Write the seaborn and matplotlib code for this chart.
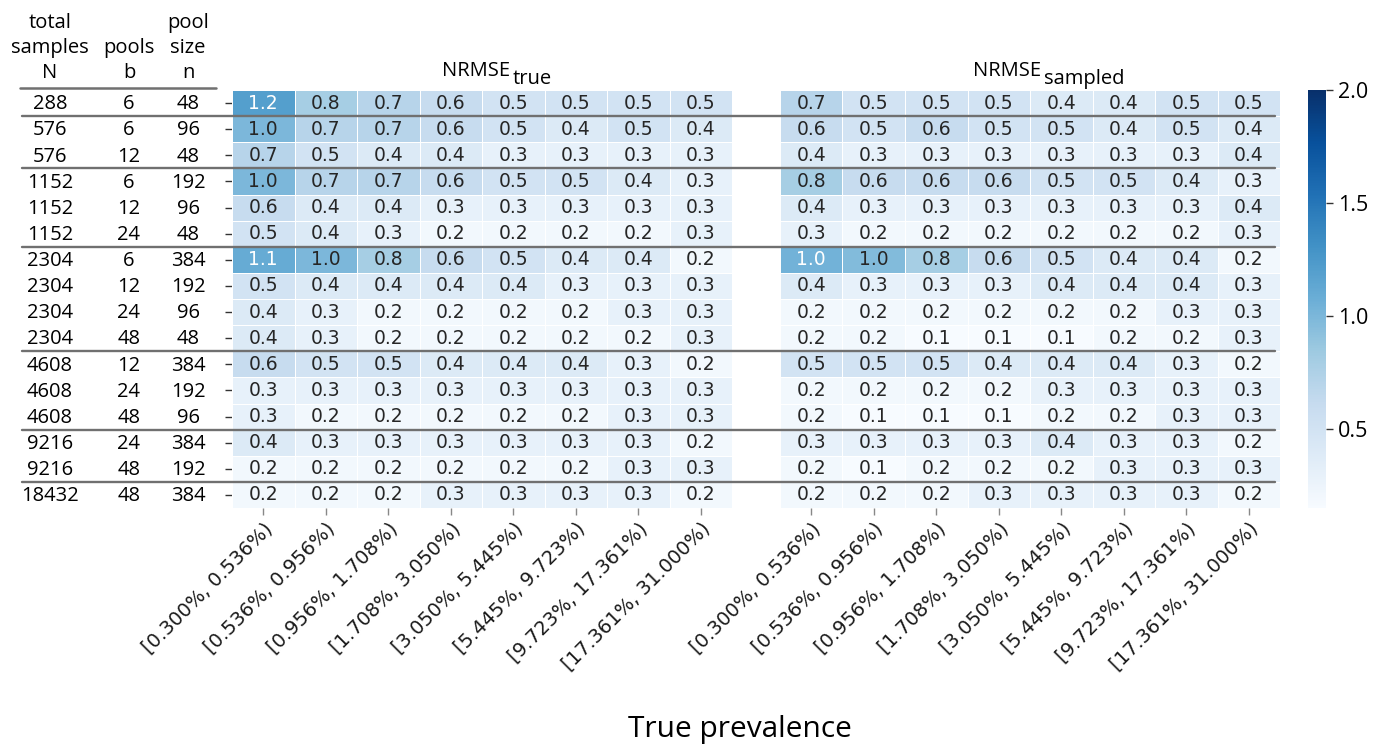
import numpy as np
import pandas as pd
import seaborn as sns
import matplotlib.pyplot as plt
from matplotlib.lines import Line2D
from matplotlib.transforms import blended_transform_factory

prevalence_bins = ["[0.300%, 0.536%)", "[0.536%, 0.956%)", "[0.956%, 1.708%)",
                   "[1.708%, 3.050%)", "[3.050%, 5.445%)", "[5.445%, 9.723%)",
                   "[9.723%, 17.361%)", "[17.361%, 31.000%)"]
total_samples = [288, 576, 576, 1152, 1152, 1152, 2304, 2304, 2304, 2304,
                 4608, 4608, 4608, 9216, 9216, 18432]
pools = [6, 6, 12, 6, 12, 24, 6, 12, 24, 48, 12, 24, 48, 24, 48, 48]
pool_size = [48, 96, 48, 192, 96, 48, 384, 192, 96, 48, 384, 192, 96, 384, 192, 384]

nrmse_true = [
    [1.2, 0.8, 0.7, 0.6, 0.5, 0.5, 0.5, 0.5],
    [1.0, 0.7, 0.7, 0.6, 0.5, 0.4, 0.5, 0.4],
    [0.7, 0.5, 0.4, 0.4, 0.3, 0.3, 0.3, 0.3],
    [1.0, 0.7, 0.7, 0.6, 0.5, 0.5, 0.4, 0.3],
    [0.6, 0.4, 0.4, 0.3, 0.3, 0.3, 0.3, 0.3],
    [0.5, 0.4, 0.3, 0.2, 0.2, 0.2, 0.2, 0.3],
    [1.1, 1.0, 0.8, 0.6, 0.5, 0.4, 0.4, 0.2],
    [0.5, 0.4, 0.4, 0.4, 0.4, 0.3, 0.3, 0.3],
    [0.4, 0.3, 0.2, 0.2, 0.2, 0.2, 0.3, 0.3],
    [0.4, 0.3, 0.2, 0.2, 0.2, 0.2, 0.2, 0.3],
    [0.6, 0.5, 0.5, 0.4, 0.4, 0.4, 0.3, 0.2],
    [0.3, 0.3, 0.3, 0.3, 0.3, 0.3, 0.3, 0.3],
    [0.3, 0.2, 0.2, 0.2, 0.2, 0.2, 0.3, 0.3],
    [0.4, 0.3, 0.3, 0.3, 0.3, 0.3, 0.3, 0.2],
    [0.2, 0.2, 0.2, 0.2, 0.2, 0.2, 0.3, 0.3],
    [0.2, 0.2, 0.2, 0.3, 0.3, 0.3, 0.3, 0.2],
]
nrmse_sampled = [
    [0.7, 0.5, 0.5, 0.5, 0.4, 0.4, 0.5, 0.5],
    [0.6, 0.5, 0.6, 0.5, 0.5, 0.4, 0.5, 0.4],
    [0.4, 0.3, 0.3, 0.3, 0.3, 0.3, 0.3, 0.4],
    [0.8, 0.6, 0.6, 0.6, 0.5, 0.5, 0.4, 0.3],
    [0.4, 0.3, 0.3, 0.3, 0.3, 0.3, 0.3, 0.4],
    [0.3, 0.2, 0.2, 0.2, 0.2, 0.2, 0.2, 0.3],
    [1.04, 0.97, 0.8, 0.6, 0.5, 0.4, 0.4, 0.2],
    [0.4, 0.3, 0.3, 0.3, 0.4, 0.4, 0.4, 0.3],
    [0.2, 0.2, 0.2, 0.2, 0.2, 0.2, 0.3, 0.3],
    [0.2, 0.2, 0.1, 0.1, 0.1, 0.2, 0.2, 0.3],
    [0.5, 0.5, 0.5, 0.4, 0.4, 0.4, 0.3, 0.2],
    [0.2, 0.2, 0.2, 0.2, 0.3, 0.3, 0.3, 0.3],
    [0.2, 0.1, 0.1, 0.1, 0.2, 0.2, 0.3, 0.3],
    [0.3, 0.3, 0.3, 0.3, 0.4, 0.3, 0.3, 0.2],
    [0.2, 0.1, 0.2, 0.2, 0.2, 0.3, 0.3, 0.3],
    [0.2, 0.2, 0.2, 0.3, 0.3, 0.3, 0.3, 0.2],
]
group_boundaries = [1, 3, 6, 10, 13, 15]

sns.set_style("white")
plt.rcParams['font.family'] = ['DejaVu Sans']
plt.rcParams['text.color'] = 'black'

W, H = 1377, 744
fig = plt.figure(figsize=(W / 100, H / 100), dpi=100)
fig.patch.set_facecolor('white')

top, bot = 90, 508
ax1 = fig.add_axes([232 / W, 1 - bot / H, 500 / W, (bot - top) / H])
ax2 = fig.add_axes([780 / W, 1 - bot / H, 500 / W, (bot - top) / H])
cax = fig.add_axes([1308 / W, 1 - bot / H, 18 / W, (bot - top) / H])

df1 = pd.DataFrame(nrmse_true, columns=prevalence_bins)
df2 = pd.DataFrame(nrmse_sampled, columns=prevalence_bins)

common = dict(cmap='Blues', vmin=0.15, vmax=2.0, annot=True, fmt='.1f',
              linewidths=0.5, linecolor='white', annot_kws={'size': 13.5})
sns.heatmap(df1, ax=ax1, cbar=False, **common)
sns.heatmap(df2, ax=ax2, cbar=True, cbar_ax=cax, **common)

# the darkest cells carry white annotations in the reference
for t in ax2.texts:
    if t.get_text() == '1.0' and abs(t.get_position()[0] - 0.5) < 1e-6:
        t.set_color('white')

for ax in (ax1, ax2):
    ax.set_xlabel('')
    ax.set_ylabel('')
    ax.set_xticks(np.arange(len(prevalence_bins)) + 0.5)
    ax.set_xticklabels(prevalence_bins, rotation=45, ha='right', va='top',
                       rotation_mode='anchor', fontsize=14, color='#1a1a1a')
    ax.tick_params(axis='x', bottom=True, length=5, width=1, color='#888888', pad=3)

ax1.set_yticks(np.arange(len(total_samples)) + 0.5)
ax1.set_yticklabels([''] * len(total_samples))
ax1.tick_params(axis='y', left=True, length=5, width=1, color='#333333')
ax2.set_yticks([])

cb = ax2.collections[0].colorbar
cb.set_ticks([0.5, 1.0, 1.5, 2.0])
cb.ax.set_yticklabels(['0.5', '1.0', '1.5', '2.0'], fontfamily='Open Sans',
                      fontsize=15.5, color='black')
cb.ax.tick_params(length=5, width=1, color='#333333')
cb.outline.set_linewidth(0)

# table on the left
trans = blended_transform_factory(fig.transFigure, ax1.transData)
col_x = [50 / W, 129 / W, 188 / W]
tkw = dict(family='Open Sans', fontsize=14.5, ha='center', va='center',
           color='black', transform=trans)
for i in range(len(total_samples)):
    y = i + 0.55
    fig.text(col_x[0], y, str(total_samples[i]), **tkw)
    fig.text(col_x[1], y, str(pools[i]), **tkw)
    fig.text(col_x[2], y, str(pool_size[i]), **tkw)

hkw = dict(family='Open Sans', fontsize=14.5, ha='center', va='baseline', color='black')
hdr_y = [1 - 28 / H, 1 - 53 / H, 1 - 78 / H]
fig.text(col_x[0], hdr_y[0], 'total', **hkw)
fig.text(col_x[0], hdr_y[1], 'samples', **hkw)
fig.text(col_x[0], hdr_y[2], 'N', **hkw)
fig.text(col_x[1], hdr_y[1], 'pools', **hkw)
fig.text(col_x[1], hdr_y[2], 'b', **hkw)
fig.text(col_x[2], hdr_y[0], 'pool', **hkw)
fig.text(col_x[2], hdr_y[1], 'size', **hkw)
fig.text(col_x[2], hdr_y[2], 'n', **hkw)

fig.add_artist(Line2D([20 / W, 216 / W], [1 - 88 / H, 1 - 88 / H],
                      transform=fig.transFigure, color='#707070', lw=1.8))
for b in group_boundaries:
    fig.add_artist(Line2D([22 / W, 1275 / W], [b, b], transform=trans,
                          color='#707070', lw=1.7))

# titles
ttl = dict(family='Open Sans', fontsize=14.5, va='baseline', color='black')
fig.text(510 / W, 1 - 76 / H, 'NRMSE', ha='right', **ttl)
fig.text(513 / W, 1 - 84 / H, 'true', ha='left', **ttl)
fig.text(1041 / W, 1 - 76 / H, 'NRMSE', ha='right', **ttl)
fig.text(1044 / W, 1 - 84 / H, 'sampled', ha='left', **ttl)

fig.text(740 / W, 1 - 737 / H, 'True prevalence', family='Open Sans', fontsize=21.5,
         ha='center', va='baseline', color='black')

fig.savefig('out.png', dpi=100, facecolor='white')
